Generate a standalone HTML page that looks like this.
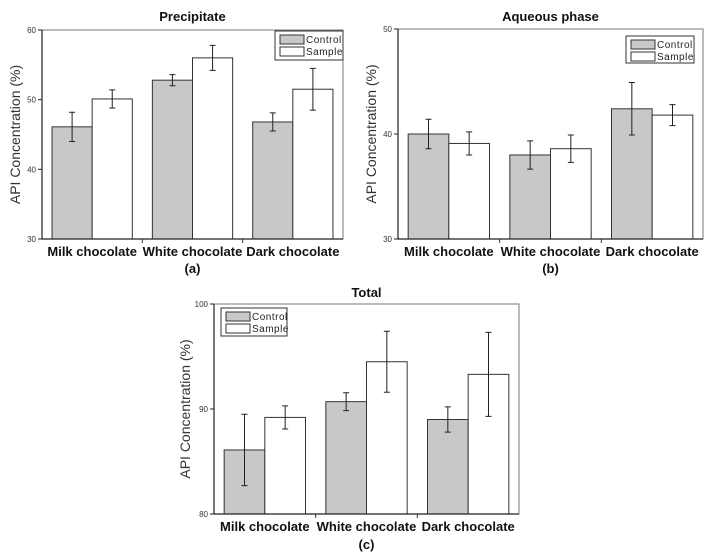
<!DOCTYPE html>
<html><head><meta charset="utf-8"><style>
body{margin:0;background:#fff;}
svg{display:block;font-family:"Liberation Sans",sans-serif;}
.cat{font-weight:bold;font-size:13px;fill:#111;}
.ttl{font-weight:bold;font-size:13px;fill:#111;}
.tick{font-size:8px;fill:#333;}
.yt{font-size:14px;fill:#333;}
.leg{font-size:10px;fill:#222;letter-spacing:0.5px;}
</style></head><body>
<svg id="fig" width="715" height="558" viewBox="0 0 715 558"></svg>
<script>
const categories = ["Milk chocolate","White chocolate","Dark chocolate"];
const seriesNames = ["Control","Sample"];
const precipControl = [46.1, 52.8, 46.8];
const precipControlErr = [2.1, 0.8, 1.3];
const precipSample = [50.1, 56.0, 51.5];
const precipSampleErr = [1.3, 1.8, 3.0];
const aqControl = [40.0, 38.0, 42.4];
const aqControlErr = [1.4, 1.35, 2.5];
const aqSample = [39.1, 38.6, 41.8];
const aqSampleErr = [1.1, 1.3, 1.0];
const totControl = [86.1, 90.7, 89.0];
const totControlErr = [3.4, 0.85, 1.2];
const totSample = [89.2, 94.5, 93.3];
const totSampleErr = [1.1, 2.9, 4.0];
const ticksA = [30,40,50,60];
const ticksB = [30,40,50];
const ticksC = [80,90,100];

const NS="http://www.w3.org/2000/svg";
const svg=document.getElementById('fig');
function mk(tag,attrs,parent,text){const e=document.createElementNS(NS,tag);for(const k in attrs)e.setAttribute(k,attrs[k]);if(text!==undefined)e.textContent=text;(parent||svg).appendChild(e);return e;}

function chart(cfg){
  const g=mk('g',{});
  
  
  const {x0,x1,y0,y1,min,max}=cfg;
  const ys=v=>y1-(v-min)/(max-min)*(y1-y0);
  const gw=(x1-x0)/categories.length;
  const bw=gw*0.4, off=gw*0.1;
  const fr=mk('rect',{x:x0,y:y0,width:x1-x0,height:y1-y0,fill:'none',stroke:'#777','stroke-width':1},g);
  
  
  categories.forEach((c,i)=>{
    const gx=x0+i*gw+off;
    [[cfg.ctrl,cfg.ctrlErr,'#c8c8c8',0],[cfg.samp,cfg.sampErr,'#fff',1]].forEach(([vals,errs,fill,k])=>{
      const bx=gx+k*bw, v=vals[i], e=errs[i];
      const r=mk('rect',{x:bx,y:ys(v),width:bw,height:y1-ys(v),fill:fill,stroke:'#333','stroke-width':1},g);
      
      
      const cx=bx+bw/2;
      const eb=mk('path',{d:`M${cx},${ys(v+e)}V${ys(v-e)}M${cx-3},${ys(v+e)}H${cx+3}M${cx-3},${ys(v-e)}H${cx+3}`,stroke:'#222','stroke-width':1,fill:'none'},g);
      
      
    });
    const t=mk('text',{x:x0+(i+0.5)*gw,y:cfg.catY,'text-anchor':'middle',class:'cat'},g,c);
    
    
    if(i>0){mk('line',{x1:x0+i*gw,x2:x0+i*gw,y1:y1,y2:y1+4,stroke:'#333'},g);}
  });
  mk('path',{d:`M${x0},${y0}V${y1}H${x1}`,stroke:'#222','stroke-width':1.2,fill:'none'},g);
  cfg.ticks.forEach(t=>{
    mk('line',{x1:x0-4,x2:x0,y1:ys(t),y2:ys(t),stroke:'#222'},g);
    const tl=mk('text',{x:x0-6,y:ys(t)+3,'text-anchor':'end',class:'tick'},g,t);
    
    
  });
  const tt=mk('text',{x:(x0+x1)/2,y:cfg.titleY,'text-anchor':'middle',class:'ttl'},g,cfg.title);
  
  
  const ya=mk('text',{x:0,y:0,'text-anchor':'middle',class:'yt',transform:`translate(${cfg.yTitleX},${(y0+y1)/2}) rotate(-90)`},g,'API Concentration (%)');
  
  
  const pl=mk('text',{x:(x0+x1)/2,y:cfg.panelY,'text-anchor':'middle',class:'cat'},g,cfg.panel);
  
  
  const L=cfg.leg;
  const lg=mk('g',{},g);
  
  
  mk('rect',{x:L[0],y:L[1],width:L[2],height:L[3],fill:'#fff',stroke:'#333'},lg);
  seriesNames.forEach((s,k)=>{
    const yy=L[1]+4+k*12;
    mk('rect',{x:L[0]+5,y:yy,width:24,height:9,fill:k?'#fff':'#c8c8c8',stroke:'#333'},lg);
    const lt=mk('text',{x:L[0]+31,y:yy+8,class:'leg'},lg,s);
    
    
  });
}

chart({name:'chart-precipitate',x0:42,x1:343,y0:30,y1:239,min:30,max:60,ticks:ticksA,ctrl:precipControl,ctrlErr:precipControlErr,samp:precipSample,sampErr:precipSampleErr,title:'Precipitate',titleY:21,yTitleX:20,catY:256,panel:'(a)',panelY:273,leg:[275,31,68,29]});
chart({name:'chart-aqueous',x0:398,x1:703,y0:29,y1:239,min:30,max:50,ticks:ticksB,ctrl:aqControl,ctrlErr:aqControlErr,samp:aqSample,sampErr:aqSampleErr,title:'Aqueous phase',titleY:21,yTitleX:376,catY:256,panel:'(b)',panelY:273,leg:[626,36,68,27]});
chart({name:'chart-total',x0:214,x1:519,y0:304,y1:514,min:80,max:100,ticks:ticksC,ctrl:totControl,ctrlErr:totControlErr,samp:totSample,sampErr:totSampleErr,title:'Total',titleY:297,yTitleX:190,catY:531,panel:'(c)',panelY:549,leg:[221,308,66,28]});
</script>
</body></html>
